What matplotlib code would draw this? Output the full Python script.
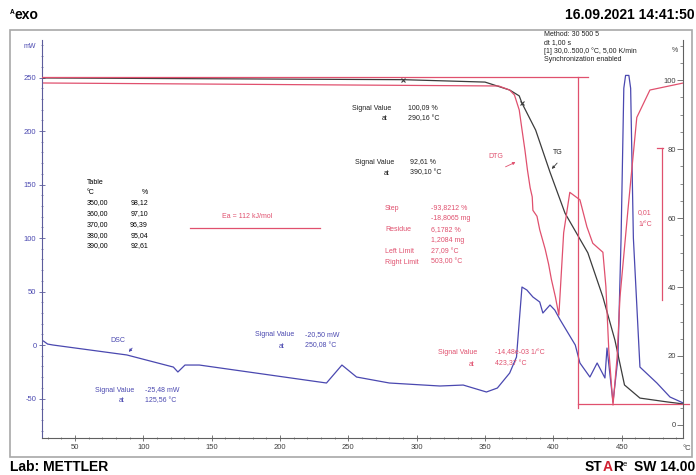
import numpy as np
import matplotlib.pyplot as plt
from matplotlib.patches import Rectangle

# DSC signal (mW) vs temperature (°C)
dsc_T = [27, 30, 34, 88, 122, 125.3, 130.5, 141, 234, 245.3, 256, 280, 317, 334, 351, 359,
         368, 373, 375.5, 377, 380.6, 385, 390, 392.3, 397.5, 401, 405, 416, 419.4, 426.7,
         432, 437.7, 439.2, 443.6, 447.2, 449.5, 451.5, 452.8, 455.2, 456.5, 458.5, 463.3,
         475.7, 485.3, 495]
dsc_mW = [3.7, 0.9, 0, -9.3, -20.6, -25.2, -18.7, -18.7, -35.5, -18.7, -29.9, -35.5, -38.3,
          -37.4, -43.9, -40.2, -26.2, -11.2, 29.9, 54.2, 51.4, 44.9, 40.2, 29.9, 37.4, 32.7,
          23.4, 0, -16.8, -29.9, -16.8, -30.8, -2.8, -53.3, -12.1, 100, 240, 252, 252, 240,
          100, -20.6, -35.5, -48.6, -54.2]

# TG signal (%)
tg_T = [27, 290, 350, 368, 375, 377, 387, 397.5, 408.5, 425.2, 436.2, 445, 452, 463.3, 483, 495]
tg_pct = [100.6, 100.1, 99.4, 97.1, 95.4, 93.3, 85.5, 73.3, 61.4, 49.9, 37.1, 24.6, 11.6, 7.8,
          6.7, 6.1]

# DTG signal (1e-3 1/°C)
dtg_T = [27, 360, 368, 371.5, 375, 377, 379.2, 381, 383, 384.5, 385, 388, 390, 394, 396.5,
         398.5, 401.5, 404, 407.5, 412, 419.4, 424.5, 428.8, 436.2, 438.4, 440.5, 443.6,
         446.6, 448.7, 454.5, 461, 470.6, 495]
dtg_val = [0, -0.2, -0.47, -0.8, -1.8, -3.1, -4.5, -5.8, -7.0, -7.6, -8.5, -8.9, -9.8, -11.1,
           -12.1, -13.1, -14.3, -15.5, -10.0, -7.3, -7.8, -9.6, -10.7, -11.3, -13.6, -17.8,
           -21.5, -18.3, -14.3, -8.5, -2.3, -0.47, 0]

x_ticks = [50, 100, 150, 200, 250, 300, 350, 400, 450]
mw_ticks = [-50, 0, 50, 100, 150, 200, 250]
pct_ticks = [0, 20, 40, 60, 80, 100]

table_T = ["350,00", "360,00", "370,00", "380,00", "390,00"]
table_pct = ["98,12", "97,10", "96,39", "95,04", "92,61"]

blue = "#4a48b0"
red = "#e0506e"
grey = "#3c3c3c"

plt.rcParams['font.family'] = ['Liberation Sans', 'DejaVu Sans']
plt.rcParams['axes.unicode_minus'] = False

W, H = 696, 475
fig = plt.figure(figsize=(6.96, 4.75), dpi=100)
fig.patches.append(Rectangle((10 / W, 1 - 457 / H), 682 / W, 427 / H,
                             transform=fig.transFigure, fill=False, ec="#a8a8a8", lw=1.2))

def fx(px):
    return px / W

def fy(py):
    return 1 - py / H

ax = fig.add_axes([fx(42), fy(438), 641 / W, 398 / H])
ax.set_xlim(25.9, 494.8)
ax.set_ylim(-86.9, 285.1)
ax.patch.set_alpha(0)

ax2 = ax.twinx()
ax2.set_ylim(-3.77, 111.6)
ax3 = ax.twinx()
ax3.set_ylim(-23.7, 2.87)
ax3.axis('off')

# curves
ax.plot(dsc_T, dsc_mW, color=blue, lw=0.9)
ax2.plot(tg_T, tg_pct, color=grey, lw=0.9)
ax3.plot(dtg_T, dtg_val, color=red, lw=0.9)
mark_T = [290, 377]
ax2.plot(mark_T, np.interp(mark_T, tg_T, tg_pct), ls='none', marker='x', ms=3,
         mew=0.8, color=grey)

# step evaluation lines
ax2.plot([25.9, 425], [100.9, 100.9], color=red, lw=0.9)
ax2.plot([418, 418], [100.9, 5.0], color=red, lw=0.9)
ax2.plot([418, 499], [6.2, 6.2], color=red, lw=0.9, clip_on=False)

# spines and ticks
ax.spines['top'].set_visible(False)
ax2.spines['top'].set_visible(False)
ax.spines['right'].set_visible(False)
ax2.spines['left'].set_visible(False)
ax2.spines['bottom'].set_visible(False)
for sp in [ax.spines['bottom'], ax2.spines['right']]:
    sp.set_color("#606060")
    sp.set_linewidth(0.8)
ax.spines['left'].set_color("#5c5c9c")
ax.spines['left'].set_linewidth(0.8)

ax.set_xticks(x_ticks)
ax.set_xticks(np.arange(30, 495, 10), minor=True)
ax.set_yticks(mw_ticks)
ax.set_yticks(np.arange(-80, 281, 10), minor=True)
ax.tick_params(axis='both', which='major', length=4, width=0.6, direction='inout',
               labelsize=5.5, colors="#606060", pad=2)
ax.tick_params(axis='both', which='minor', length=2, width=0.5, direction='inout',
               colors="#606060")
ax.tick_params(axis='y', which='both', colors="#5c5c9c")
for lbl in ax.get_yticklabels():
    lbl.set_color(blue)
for lbl in ax.get_xticklabels():
    lbl.set_color("#404040")

ax2.set_yticks(pct_ticks)
ax2.set_yticks(np.arange(0, 111, 5), minor=True)
ax2.tick_params(axis='y', which='major', length=4, width=0.6, direction='in',
                labelsize=5.5, colors="#606060", pad=-5)
ax2.tick_params(axis='y', which='minor', length=2, width=0.5, direction='in',
                colors="#606060")
for lbl in ax2.get_yticklabels():
    lbl.set_ha('right')
    lbl.set_color("#404040")

fs = 5
big = 10
renderer = fig.canvas.get_renderer()

def chain(x0, y0, parts):
    # draw text pieces one after the other on the same baseline
    x = x0
    for s, kw in parts:
        t = fig.text(fx(x), fy(y0 - kw.pop('dy', 0)), s, va='baseline', **kw)
        x = x + t.get_window_extent(renderer).width

# header / footer
chain(10, 19, [("ᴬ", dict(fontsize=7, fontweight='bold', dy=3)),
               ("exo", dict(fontsize=big, fontweight='bold'))])
fig.text(fx(695), fy(19), "16.09.2021 14:41:50", fontsize=big, fontweight='bold',
         ha='right', va='baseline')
fig.text(fx(10), fy(471), "Lab: METTLER", fontsize=big, fontweight='bold', va='baseline')
chain(585, 471, [("ST", dict(fontsize=big, fontweight='bold')),
                 ("A", dict(fontsize=big, fontweight='bold', color="#d02030")),
                 ("R", dict(fontsize=big, fontweight='bold')),
                 ("e", dict(fontsize=5.5, dy=5))])
fig.text(fx(695), fy(471), "SW 14.00", fontsize=big, fontweight='bold', ha='right',
         va='baseline')

fig.text(fx(24), fy(47), "mW", fontsize=fs, color=blue, va='center')
fig.text(fx(672), fy(50), "%", fontsize=fs, color="#404040", va='center')
fig.text(fx(687), fy(448), "°C", fontsize=5.5, color="#404040", va='center', ha='center')

fig.text(fx(544), fy(31),
         "Method: 30 500 5\ndt 1,00 s\n[1] 30,0..500,0 °C, 5,00 K/min\nSynchronization enabled",
         fontsize=fs, va='top', linespacing=1.2, color="#202020")

# table
fig.text(fx(87), fy(182), "Table", fontsize=fs, va='center')
fig.text(fx(87), fy(192), "°C", fontsize=fs, va='center')
fig.text(fx(148), fy(192), "%", fontsize=fs, va='center', ha='right')
for i in range(len(table_T)):
    yy = fy(203 + i * 10.7)
    fig.text(fx(87), yy, table_T[i], fontsize=fs, va='center')
    fig.text(fx(148), yy, table_pct[i], fontsize=fs, va='center', ha='right')

# Ea line
fig.text(fx(222), fy(217), "Ea = 112 kJ/mol", fontsize=fs, color=red, va='center')
fig.add_artist(plt.Line2D([fx(190), fx(320)], [fy(228), fy(228)], color=red, lw=0.9))

def sigval(x1, x2, y, a, b, col):
    fig.text(fx(x1), fy(y), "Signal Value", fontsize=fs, color=col, va='center')
    fig.text(fx(x2), fy(y), a, fontsize=fs, color=col, va='center')
    fig.text(fx(x2 - 26), fy(y + 11), "at", fontsize=fs, color=col, va='center')
    fig.text(fx(x2), fy(y + 11), b, fontsize=fs, color=col, va='center')

sigval(352, 408, 108, "100,09 %", "290,16 °C", "#202020")
sigval(355, 410, 162, "92,61 %", "390,10 °C", "#202020")
sigval(95, 145, 390, "-25,48 mW", "125,56 °C", blue)
sigval(255, 305, 335, "-20,50 mW", "250,08 °C", blue)
sigval(438, 495, 353, "-14,48e-03 1/°C", "423,37 °C", red)

step_l = ["Step", "", "Residue", "", "Left Limit", "Right Limit"]
step_r = ["-93,8212 %", "-18,8065 mg", "6,1782 %", "1,2084 mg", "27,09 °C", "503,00 °C"]
for i in range(6):
    yy = fy(208 + i * 10.8)
    fig.text(fx(385), yy, step_l[i], fontsize=fs, color=red, va='center')
    fig.text(fx(431), yy, step_r[i], fontsize=fs, color=red, va='center')

# curve labels with small arrows
fig.text(fx(110), fy(341), "DSC", fontsize=fs, color=blue, va='center')
ax.annotate("", xy=(fx(127), fy(354)), xytext=(fx(134), fy(346)),
            xycoords='figure fraction', arrowprops=dict(arrowstyle='-|>', color=blue, lw=0.6,
                                                        mutation_scale=4))
fig.text(fx(488), fy(156), "DTG", fontsize=fs, color=red, va='center')
ax.annotate("", xy=(fx(518), fy(161)), xytext=(fx(503), fy(168)),
            xycoords='figure fraction', arrowprops=dict(arrowstyle='-|>', color=red, lw=0.6,
                                                        mutation_scale=4))
fig.text(fx(553), fy(153), "TG", fontsize=fs, color="#202020", va='center')
ax.annotate("", xy=(fx(550), fy(171)), xytext=(fx(559), fy(161)),
            xycoords='figure fraction', arrowprops=dict(arrowstyle='-|>', color=grey, lw=0.6,
                                                        mutation_scale=4))

# DTG scale bar
fig.add_artist(plt.Line2D([fx(662), fx(662)], [fy(148), fy(300)], color=red, lw=0.9))
fig.add_artist(plt.Line2D([fx(657), fx(663)], [fy(148), fy(148)], color=red, lw=0.9))
fig.text(fx(645), fy(213), "0,01", fontsize=fs, color=red, va='center', ha='center')
fig.text(fx(645), fy(224), "1/°C", fontsize=fs, color=red, va='center', ha='center')

fig.savefig("out.png", dpi=100)
